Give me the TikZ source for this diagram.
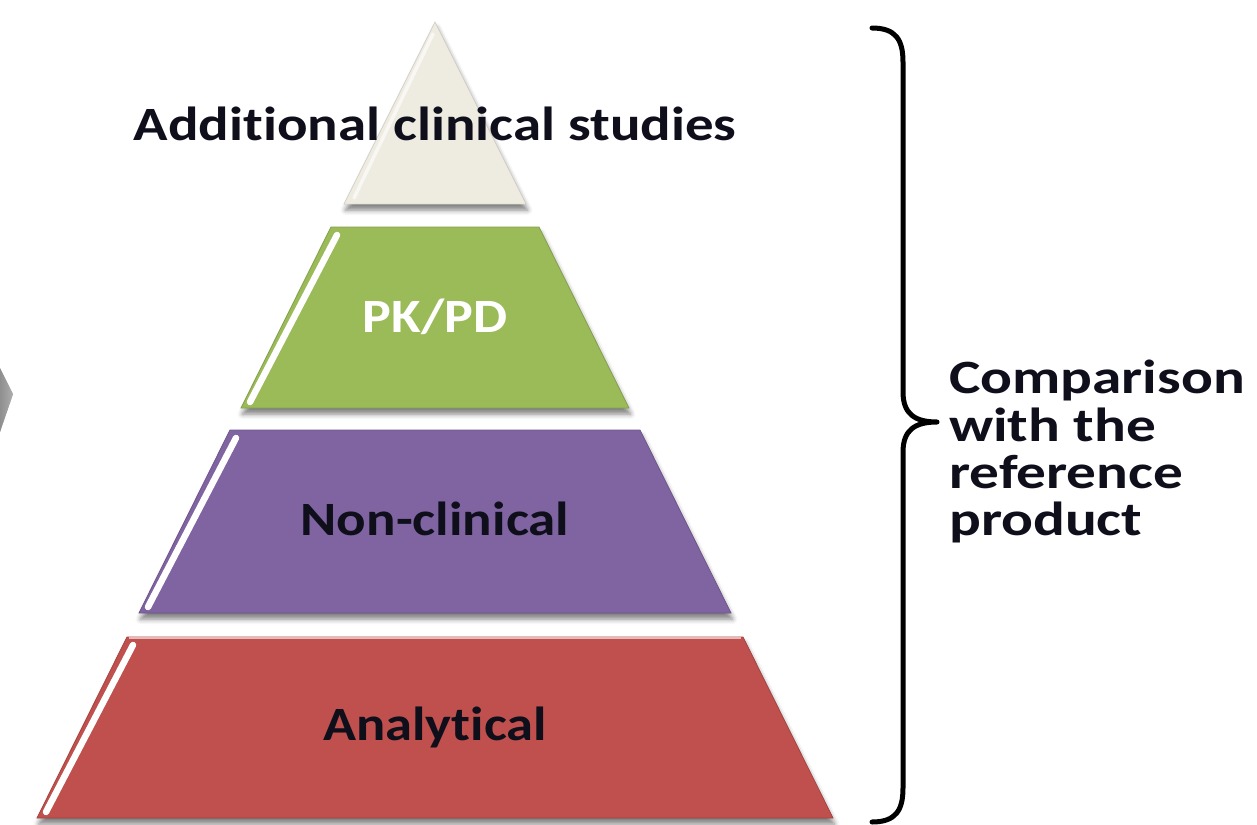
\documentclass[tikz,border=0pt]{standalone}
\usepackage{fontspec}
\setmainfont{Carlito}[Ligatures=NoCommon]
\usetikzlibrary{shadows.blur}
\definecolor{tricol}{HTML}{EEECE1}
\definecolor{grn}{HTML}{9BBB59}
\definecolor{pur}{HTML}{8064A2}
\definecolor{rd}{HTML}{C0504D}
\definecolor{txt}{HTML}{0F0F1C}
\tikzset{
  layer/.style={blur shadow={shadow xshift=1.5bp, shadow yshift=-6bp, shadow blur radius=5bp, shadow opacity=50}},
  gloss/.style={draw=white, line width=6.5bp, line cap=round},
  lbl/.style={font=\bfseries\fontsize{48}{47}\selectfont, text=txt, inner sep=0pt},
  bracepath/.style={draw=black, line width=5bp, line cap=round, line join=round}
}
\begin{document}
\begin{tikzpicture}[x=1bp,y=-1bp]
\useasboundingbox (0,0) rectangle (1257,825);
% partial gray arrow at the left edge
\fill[left color=gray!70, right color=gray!25, opacity=0.55] (0,368) -- (13,394) -- (0,432) -- cycle;
% pyramid layers
\path[layer, fill=rd, draw=rd!85!black, line width=0.8bp] (127,637) -- (743,637) -- (833,818) -- (37,818) -- cycle;
\path[layer, fill=pur, draw=pur!85!black, line width=0.8bp] (230,430) -- (640,430) -- (731,613) -- (139,613) -- cycle;
\path[layer, fill=grn, draw=grn!85!black, line width=0.8bp] (331,227) -- (539,227) -- (629,408) -- (241,408) -- cycle;
\path[layer, fill=tricol, draw=tricol!85!black, line width=0.5bp] (435,22) -- (526,204) -- (344,204) -- cycle;
% glossy highlights on left edges
\draw[gloss] (133,645) -- (46,812);
\draw[gloss] (236,438) -- (148,607);
\draw[gloss] (337,235) -- (250,402);
\draw[gloss, draw=white!60!tricol, line width=3.5bp] (433,34) -- (354,198);
\draw[rd!40!white, line width=1.2bp] (129,638) -- (741,638);
% labels
\node[lbl] (add) at (435,124) {\scalebox{1.19}[1]{Additional clinical studies}};
\node[lbl, text=white] (pk) at (435,317) {\scalebox{1.13}[1]{PK/PD}};
\node[lbl] (non) at (435,519) {\scalebox{1.15}[1]{Non-clinical}};
\node[lbl] (ana) at (435,727) {\scalebox{1.14}[1]{Analytical}};
% brace
\coordinate (btop) at (872,28);
\coordinate (btip) at (937,422);
\coordinate (bbot) at (872,822);
\draw[bracepath] (btop) .. controls (896,28) and (903,40) .. (903,62) -- (903,392)
  .. controls (903,414) and (915,422) .. (btip)
  .. controls (915,422) and (903,430) .. (903,452) -- (903,788)
  .. controls (903,810) and (896,822) .. (bbot);
\node[lbl, anchor=west] (cmp) at (949,455) {\scalebox{1.24}[1]{\begin{tabular}{@{}l@{}}Comparison\\with the\\reference\\product\end{tabular}}};
\end{tikzpicture}
\end{document}
